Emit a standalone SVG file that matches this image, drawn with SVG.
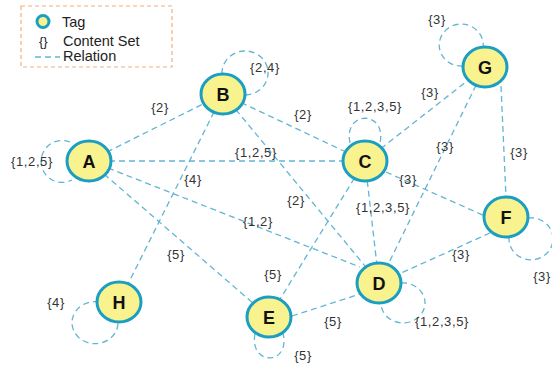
<svg xmlns="http://www.w3.org/2000/svg" width="552" height="366" viewBox="0 0 552 366">
<style>
.e{fill:none;stroke:#62b5d3;stroke-width:1.3;stroke-dasharray:6 4}
.n ellipse{fill:#f8f38e;stroke:#1c9ec3;stroke-width:3}
.n text{font-family:"Liberation Sans",Arial,sans-serif;font-weight:bold;font-size:18px;fill:#111;text-anchor:middle}
.l{font-family:"Liberation Sans",Arial,sans-serif;font-size:13px;fill:#333;text-anchor:middle;letter-spacing:0.6px}
.lg{font-family:"Liberation Sans",Arial,sans-serif;font-size:14.5px;fill:#222}
</style>
<rect width="552" height="366" fill="#fff"/>
<g id="legend">
<rect x="21" y="6" width="151" height="61" fill="#fff" stroke="#f0b080" stroke-width="1.2" stroke-dasharray="4 3"/>
<circle cx="43" cy="21.5" r="6" fill="#f8f38e" stroke="#1c9ec3" stroke-width="3"/>
<text class="lg" x="62" y="27">Tag</text>
<text class="lg" x="39" y="46" style="font-size:13px">{}</text>
<text class="lg" x="63" y="46">Content Set</text>
<line x1="35" y1="57" x2="60" y2="57" class="e"/>
<text class="lg" x="63" y="61">Relation</text>
</g>
<g id="connectors">
<line class="e" x1="89" y1="161" x2="223" y2="94"/>
<line class="e" x1="89" y1="161" x2="365" y2="161"/>
<line class="e" x1="108" y1="168" x2="360" y2="267"/>
<line class="e" x1="89" y1="161" x2="269" y2="317"/>
<line class="e" x1="223" y1="94" x2="365" y2="161"/>
<line class="e" x1="223" y1="94" x2="379" y2="283"/>
<line class="e" x1="223" y1="94" x2="119" y2="302"/>
<line class="e" x1="365" y1="161" x2="485" y2="67"/>
<line class="e" x1="386" y1="172" x2="485" y2="216"/>
<line class="e" x1="365" y1="161" x2="379" y2="283"/>
<line class="e" x1="365" y1="161" x2="269" y2="317"/>
<line class="e" x1="485" y1="67" x2="379" y2="283"/>
<line class="e" x1="501" y1="86" x2="506" y2="197"/>
<line class="e" x1="490" y1="233" x2="379" y2="283"/>
<line class="e" x1="292" y1="316" x2="360" y2="294"/>
<path class="e" d="M70 142 A21 21 0 1 0 72 180"/>
<path class="e" d="M222 74 A23 22 0 1 1 246 95"/>
<path class="e" d="M350 143 C343 110 387 110 380 143"/>
<path class="e" d="M463 66 A22 21 0 1 1 483 48"/>
<path class="e" d="M528 218 A22 21 0 1 1 509 238"/>
<path class="e" d="M401 283 A22 20 0 1 1 381 303"/>
<path class="e" d="M255 334 C249 366 291 366 283 333"/>
<path class="e" d="M99 302 A23 21 0 1 0 118 323"/>
</g>
<g id="labels">
<text class="l" x="160" y="112">{2}</text>
<text class="l" x="265" y="72">{2,4}</text>
<text class="l" x="303" y="119">{2}</text>
<text class="l" x="375" y="111">{1,2,3,5}</text>
<text class="l" x="437" y="24">{3}</text>
<text class="l" x="430" y="97">{3}</text>
<text class="l" x="32" y="166">{1,2,5}</text>
<text class="l" x="193" y="184">{4}</text>
<text class="l" x="256" y="157">{1,2,5}</text>
<text class="l" x="296" y="205">{2}</text>
<text class="l" x="258" y="226">{1,2}</text>
<text class="l" x="383" y="212">{1,2,3,5}</text>
<text class="l" x="408" y="184">{3}</text>
<text class="l" x="445" y="151">{3}</text>
<text class="l" x="519" y="157">{3}</text>
<text class="l" x="461" y="259">{3}</text>
<text class="l" x="542" y="281">{3}</text>
<text class="l" x="56" y="307">{4}</text>
<text class="l" x="176" y="259">{5}</text>
<text class="l" x="273" y="279">{5}</text>
<text class="l" x="333" y="326">{5}</text>
<text class="l" x="303" y="360">{5}</text>
<text class="l" x="442" y="326">{1,2,3,5}</text>
</g>
<g id="A" class="n"><ellipse cx="89" cy="161" rx="22" ry="20"/><text x="89" y="167.5">A</text></g>
<g id="B" class="n"><ellipse cx="223" cy="94" rx="22" ry="20"/><text x="223" y="100.5">B</text></g>
<g id="C" class="n"><ellipse cx="365" cy="161" rx="22" ry="20"/><text x="365" y="167.5">C</text></g>
<g id="D" class="n"><ellipse cx="379" cy="283" rx="22" ry="20"/><text x="379" y="289.5">D</text></g>
<g id="E" class="n"><ellipse cx="269" cy="317" rx="22" ry="20"/><text x="269" y="323.5">E</text></g>
<g id="F" class="n"><ellipse cx="506" cy="217" rx="22" ry="20"/><text x="506" y="223.5">F</text></g>
<g id="G" class="n"><ellipse cx="485" cy="67" rx="22" ry="20"/><text x="485" y="73.5">G</text></g>
<g id="H" class="n"><ellipse cx="119" cy="302" rx="22" ry="20"/><text x="119" y="308.5">H</text></g>
</svg>
